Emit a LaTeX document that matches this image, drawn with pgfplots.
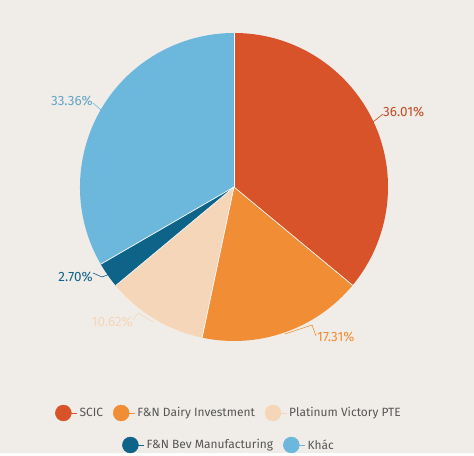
\documentclass[border=0pt]{standalone}
\usepackage{pgfplots}
\pgfplotsset{compat=1.18}
\usepackage{pgfplotstable}
\usepackage{fontspec}
\setmainfont{Fira Sans}
\definecolor{bg}{RGB}{240,237,232}
\definecolor{cA}{RGB}{217,83,42}
\definecolor{cB}{RGB}{241,141,52}
\definecolor{cC}{RGB}{245,214,184}
\definecolor{cD}{RGB}{14,99,137}
\definecolor{cE}{RGB}{108,183,220}
\definecolor{legtext}{RGB}{85,85,85}
\pgfplotstableread[col sep=comma]{
value,col
36.01,cA
17.31,cB
10.62,cC
2.70,cD
33.36,cE
}\piedata
\begin{document}
\begin{tikzpicture}
\begin{axis}[
  width=474bp, height=453bp, scale only axis,
  xmin=0, xmax=474, ymin=0, ymax=453,
  hide axis, clip=false,
  legend style={at={(axis cs:229,40)}, anchor=center, draw=none, fill=none,
    font=\fontsize{12}{14}\selectfont, text=legtext,
    /tikz/every even column/.append style={column sep=8bp}},
  legend columns=3,
  legend image code/.code={\fill[#1] (0bp,0bp) circle (8bp); \path (-8bp,0bp) -- (14bp,0bp);},
]
\fill[bg] (axis cs:0,0) rectangle (axis cs:474,453);
\gdef\startang{90}
\pgfplotsforeachungrouped \i in {0,...,4}{%
  \pgfplotstablegetelem{\i}{value}\of\piedata \let\v\pgfplotsretval
  \pgfplotstablegetelem{\i}{col}\of\piedata \let\c\pgfplotsretval
  \pgfmathsetmacro\endang{\startang-3.6*\v}%
  \edef\cmd{\noexpand\fill[\c] (axis cs:234,266) -- ++(\startang:154bp) arc[start angle=\startang, end angle=\endang, radius=154bp] -- cycle;}%
  \cmd
  \global\let\startang\endang
}
\gdef\startang{90}
\pgfplotsforeachungrouped \i in {0,...,4}{%
  \pgfplotstablegetelem{\i}{value}\of\piedata \let\v\pgfplotsretval
  \pgfmathsetmacro\endang{\startang-3.6*\v}%
  \edef\cmd{\noexpand\draw[white!85!bg, line width=0.7bp] (axis cs:234,266) -- ++(\startang:154bp);}%
  \cmd
  \global\let\startang\endang
}
% leader lines
\draw[cA!90!black, line width=0.6bp] (axis cs:373,331) -- (axis cs:383,339);
\draw[cB, line width=0.6bp] (axis cs:285,119) -- (axis cs:312,128) -- (axis cs:316,117);
\draw[cC, line width=0.6bp] (axis cs:153,131) -- (axis cs:138,140) -- (axis cs:133,133);
\draw[cD, line width=0.6bp] (axis cs:110,179) -- (axis cs:102,176) -- (axis cs:93,180);
\draw[cE, line width=0.6bp] (axis cs:101,343) -- (axis cs:93,350);
% labels
\node[anchor=west, inner sep=0, text=cA!90!black, font=\fontsize{13.5}{15}\selectfont] at (axis cs:383,341) {36.01\%};
\node[anchor=west, inner sep=0, text=cB, font=\fontsize{13.5}{15}\selectfont] at (axis cs:317,116) {17.31\%};
\node[anchor=east, inner sep=0, text=cC, font=\fontsize{13.5}{15}\selectfont] at (axis cs:133,131) {10.62\%};
\node[anchor=east, inner sep=0, text=cD, font=\fontsize{13.5}{15}\selectfont] at (axis cs:93,176) {2.70\%};
\node[anchor=east, inner sep=0, text=cE!90!black, font=\fontsize{13.5}{15}\selectfont] at (axis cs:93,352) {33.36\%};
\addlegendimage{cA}\addlegendentry{SCIC}
\addlegendimage{cB}\addlegendentry{F\&N Dairy Investment}
\addlegendimage{cC}\addlegendentry{Platinum Victory PTE}
\end{axis}
\begin{axis}[
  width=474bp, height=453bp, scale only axis,
  xmin=0, xmax=474, ymin=0, ymax=453,
  hide axis, clip=false,
  legend style={at={(axis cs:229,8)}, anchor=center, draw=none, fill=none,
    font=\fontsize{12}{14}\selectfont, text=legtext,
    /tikz/every even column/.append style={column sep=8bp}},
  legend columns=2,
  legend image code/.code={\fill[#1] (0bp,0bp) circle (8bp); \path (-8bp,0bp) -- (14bp,0bp);},
]
\addlegendimage{cD}\addlegendentry{F\&N Bev Manufacturing}
\addlegendimage{cE}\addlegendentry{Khác}
\end{axis}
\end{tikzpicture}
\end{document}
